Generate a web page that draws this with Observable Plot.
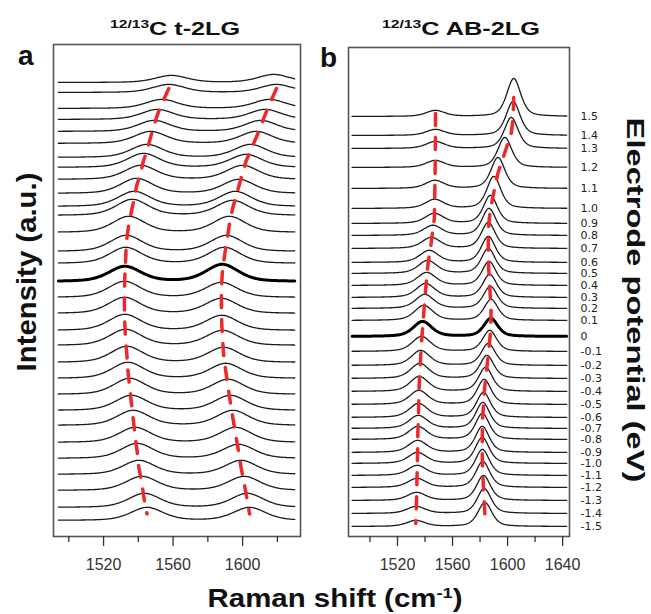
<!DOCTYPE html>
<html><head><meta charset="utf-8">
<script src="https://cdn.jsdelivr.net/npm/d3@7"></script>
<script src="https://cdn.jsdelivr.net/npm/@observablehq/plot@0.6"></script>
<style>
body{margin:0;background:#fff;}
#wrap{position:relative;width:651px;height:614px;overflow:hidden;background:#fff;font-family:"Liberation Sans",Arial,sans-serif;}
</style></head><body><div id="wrap"></div><script>
// ---- data ----
const potentials = [1.5,1.4,1.3,1.2,1.1,1.0,0.9,0.8,0.7,0.6,0.5,0.4,0.3,0.2,0.1,0,-0.1,-0.2,-0.3,-0.4,-0.5,-0.6,-0.7,-0.8,-0.9,-1.0,-1.1,-1.2,-1.3,-1.4,-1.5];
const potentialLabels = ["1.5","1.4","1.3","1.2","1.1","1.0","0.9","0.8","0.7","0.6","0.5","0.4","0.3","0.2","0.1","0","-0.1","-0.2","-0.3","-0.4","-0.5","-0.6","-0.7","-0.8","-0.9","-1.0","-1.1","-1.2","-1.3","-1.4","-1.5"];

// panel a: 12/13C t-2LG  (stack offsets, peak positions in cm-1, peak heights in a.u.)
const offsetA = [43.8,42.8,41.2,40.1,38.9,37.7,36.3,35.3,34.1,32.7,31.4,30.5,28.8,26.9,25.7,23.9,22.3,20.7,19.0,17.5,15.8,14.2,12.6,11.0,9.5,7.8,6.2,4.6,3.0,1.3,0];
const peakLowA = [1559,1557.5,1553.5,1551,1549,1547,1545,1543,1541.4,1539,1537.6,1536.5,1534.5,1533,1532.8,1532.3,1532,1532,1532.2,1532.6,1533.4,1534,1535,1536,1537,1538.1,1539.3,1540.3,1542,1543.5,1545];
const heightLowA = [0.7,0.8,0.9,1.0,1.1,1.2,1.3,1.4,1.4,1.5,1.5,1.6,1.6,1.6,1.6,1.5,1.6,1.6,1.6,1.6,1.6,1.6,1.6,1.5,1.5,1.5,1.5,1.4,1.4,1.4,1.3];
const peakHighA = [1618,1619.5,1615.5,1613,1610.5,1607.8,1604.5,1602,1600,1597.8,1595.8,1594.3,1592.4,1590.7,1589.6,1588.3,1587.8,1587.8,1588,1588.4,1589.1,1590.3,1591.6,1593,1594.4,1596,1597.7,1599.1,1600.9,1602.7,1604];
const heightHighA = [0.8,0.8,0.9,1.0,1.1,1.2,1.3,1.3,1.4,1.4,1.5,1.5,1.6,1.6,1.6,1.7,1.5,1.5,1.5,1.5,1.5,1.5,1.5,1.5,1.5,1.5,1.4,1.4,1.4,1.4,1.3];
const widthA = [11, 11];      // half widths, cm-1
const shiftRangeA = [1494, 1630];
const xDomainA = [1491.2, 1633.3];
const ticksA = [1520, 1560, 1600];
const minorTicksA = [1500, 1540, 1580, 1620];

// panel b: 12/13C AB-2LG
const offsetB = [41.0,39.1,37.8,35.9,33.8,31.8,30.3,29.1,27.8,26.4,25.3,24.1,22.9,21.8,20.6,19.0,17.5,16.1,14.8,13.5,12.2,10.9,9.8,8.7,7.4,6.3,5.1,3.9,2.6,1.3,0];
const peakLowB = [1547.6,1547.6,1547.5,1547.4,1547.2,1547,1546.8,1545.6,1544.5,1543,1541.9,1541.2,1540.4,1539.8,1539.1,1538.2,1537.4,1536.8,1536.2,1535.8,1535.5,1535.3,1535.1,1534.8,1534.7,1534.5,1534.3,1534.1,1533.9,1533.6,1533.3];
const heightLowB = [0.6,0.6,0.7,0.7,0.8,0.9,1.0,1.0,1.1,1.2,1.3,1.3,1.4,1.4,1.5,1.5,1.5,1.5,1.5,1.5,1.4,1.4,1.3,1.3,1.2,1.1,1.0,0.9,0.8,0.7,0.6];
const peakHighB = [1604.5,1604,1602.7,1598,1593,1590,1587.5,1586.5,1586,1586,1586,1586.5,1587,1587.5,1588,1587.8,1587,1586,1585,1584,1583,1582.5,1582,1581.7,1581.6,1581.6,1581.7,1582,1582.5,1583,1583.5];
const heightHighB = [3.8,3.4,3.1,3.0,3.1,3.2,2.8,2.7,2.6,2.6,2.5,2.4,2.3,2.2,2.1,1.8,2.1,2.2,2.3,2.4,2.5,2.5,2.6,2.6,2.6,2.6,2.6,2.6,2.5,2.5,2.4];
const widthB = [8, 6];
const shiftRangeB = [1487, 1643];
const xDomainB = [1484.4, 1645];
const ticksB = [1520, 1560, 1600, 1640];
const minorTicksB = [1500, 1540, 1580, 1620];

// ---- build spectra from the read peak parameters ----
function pv(x, c, h, w, eta) { const u = (x - c) / w; return h * (eta / (1 + u * u) + (1 - eta) * Math.exp(-Math.LN2 * u * u)); }
function buildSpectra(off, p1, h1, p2, h2, w, eta, range) {
  const xs = d3.range(range[0], range[1] + 0.01, 0.5);
  const out = [];
  potentials.forEach((pot, i) => xs.forEach(x => out.push({pot, x, y: off[i] + pv(x, p1[i], h1[i], w[0], eta) + pv(x, p2[i], h2[i], w[1], eta)})));
  return out;
}
function buildGuide(off, p1, h1, p2, h2, start) {
  const out = [];
  potentials.forEach((pot, i) => { if (i >= start) { out.push({peak: "low", x: p1[i], y: off[i] + h1[i] * 0.5}); } });
  potentials.forEach((pot, i) => { if (i >= start) { out.push({peak: "high", x: p2[i], y: off[i] + h2[i] * 0.5}); } });
  return out;
}
const specA = buildSpectra(offsetA, peakLowA, heightLowA, peakHighA, heightHighA, widthA, 0.4, shiftRangeA);
const specB = buildSpectra(offsetB, peakLowB, heightLowB, peakHighB, heightHighB, widthB, 0.5, shiftRangeB);
const guideA = buildGuide(offsetA, peakLowA, heightLowA, peakHighA, heightHighA, 1);
const guideB = buildGuide(offsetB, peakLowB, heightLowB, peakHighB, heightHighB, 0);
const labelRows = potentials.map((p, i) => ({label: potentialLabels[i], y: offsetB[i]}));

const wrap = document.getElementById("wrap");
const baseStyle = {fontFamily: "Liberation Sans, Arial, sans-serif", background: "transparent", overflow: "visible", maxWidth: "none"};

function panel(opts) {
  return Plot.plot({
    width: opts.width, height: 580,
    marginLeft: opts.ml, marginRight: opts.mr, marginTop: opts.mt, marginBottom: 44,
    x: {domain: opts.xDomain, axis: null},
    y: {domain: opts.yDomain, axis: null},
    style: baseStyle,
    marks: [
      Plot.line(opts.spec.filter(d => d.pot !== 0), {x: "x", y: "y", z: "pot", stroke: "#1c1c1c", strokeWidth: 1.3}),
      Plot.line(opts.spec.filter(d => d.pot === 0), {x: "x", y: "y", stroke: "#000", strokeWidth: 3}),
      Plot.line(opts.guide, {x: "x", y: "y", z: "peak", stroke: "#ec2a2a", strokeWidth: 3.5, strokeDasharray: "12,12"}),
      Plot.frame({stroke: "#555", strokeWidth: 1.6}),
      Plot.axisX(opts.ticks, {anchor: "bottom", tickSize: 10, tickPadding: 12, fontSize: 16, color: "#333", strokeWidth: 1.3, label: null, tickFormat: "d"}),
      Plot.axisX(opts.minor, {anchor: "bottom", tickSize: 6, color: "#333", strokeWidth: 1.3, label: null, tickFormat: () => ""}),
      ...(opts.extra || [])
    ]
  });
}

const plotA = panel({width: 305, ml: 53, mr: 5, mt: 44, xDomain: xDomainA, yDomain: [-1.6, 47.6], spec: specA, guide: guideA, ticks: ticksA, minor: minorTicksA});
const plotB = panel({width: 294, ml: 28, mr: 45, mt: 47, xDomain: xDomainB, yDomain: [-1.0, 47.9], spec: specB, guide: guideB, ticks: ticksB, minor: minorTicksB,
  extra: [Plot.text(labelRows, {y: "y", text: "label", frameAnchor: "right", dx: 11, textAnchor: "start", fontSize: 11, fontFamily: "DejaVu Sans", fill: "#222"})]});
for (const [svg, left] of [[plotA, 0], [plotB, 320]]) {
  svg.style.position = "absolute"; svg.style.left = left + "px"; svg.style.top = "0px";
  wrap.appendChild(svg);
}

// ---- titles and axis titles ----
const overlay = d3.select(wrap).append("svg").attr("width", 651).attr("height", 614)
  .style("position", "absolute").style("left", "0px").style("top", "0px").style("pointer-events", "none")
  .style("font-family", "Liberation Sans, Arial, sans-serif").style("font-weight", "bold").attr("fill", "#111");

function addText({x, y, rotate = 0, size, target, parts, anchor = "middle"}) {
  const g = overlay.append("g").attr("transform", `translate(${x},${y}) rotate(${rotate})`);
  const inner = g.append("g");
  const t = inner.append("text").attr("text-anchor", anchor).attr("font-size", size);
  for (const p of parts) {
    if (p.sup) t.append("tspan").attr("font-size", size * 0.62).attr("dy", -size * 0.38).text(p.t);
    else t.append("tspan").attr("dy", p.after ? size * 0.38 : 0).text(p.t);
  }
  if (target) {
    const len = t.node().getComputedTextLength();
    inner.attr("transform", `scale(${target / len},1)`);
  }
}
addText({x: 175, y: 35, size: 19, target: 130, parts: [{t: "12/13", sup: true}, {t: "C t-2LG", after: true}]});
addText({x: 461, y: 35, size: 19, target: 158, parts: [{t: "12/13", sup: true}, {t: "C AB-2LG", after: true}]});
addText({x: 18, y: 65, size: 28, anchor: "start", parts: [{t: "a"}]});
addText({x: 320, y: 67, size: 28, anchor: "start", parts: [{t: "b"}]});
addText({x: 36, y: 272, rotate: -90, size: 28, target: 199, parts: [{t: "Intensity (a.u.)"}]});
addText({x: 335, y: 607, size: 25, target: 255, parts: [{t: "Raman shift (cm"}, {t: "-1", sup: true}, {t: ")", after: true}]});
addText({x: 627, y: 300, rotate: 90, size: 24, target: 365, parts: [{t: "Electrode potential (eV)"}]});
</script></body></html>
